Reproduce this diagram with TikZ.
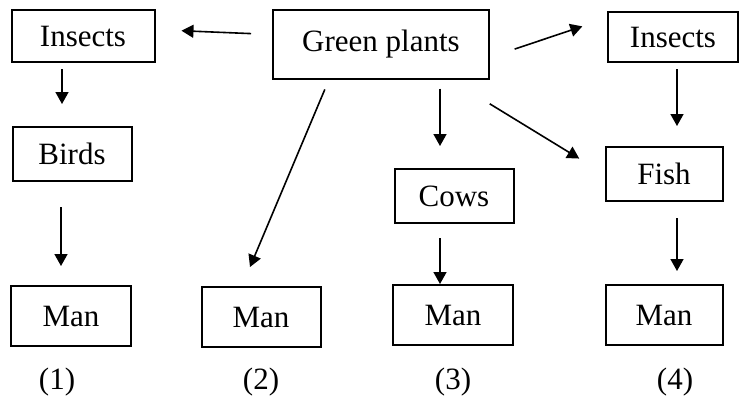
\documentclass[tikz,border=0pt]{standalone}
\usepackage{fontspec}
\setmainfont{Liberation Serif}
\usetikzlibrary{arrows.meta}

\begin{document}
\begin{tikzpicture}[x=0.5pt, y=-0.5pt]
        \tikzstyle{box}=[draw=black, line width=1pt, inner sep=0pt, font=\fontsize{15.5}{18}\selectfont];
        \tikzstyle{flow}=[-{Triangle[length=6pt, width=6.5pt]}, line width=0.8pt, black];
        \tikzstyle{num}=[font=\fontsize{15.5}{18}\selectfont];

        \useasboundingbox (0, 0) rectangle (740, 397);

        \node[box, minimum width=108pt, minimum height=34.5pt] (0) at (381, 44) {Green plants};

        \node[box, minimum width=71.5pt, minimum height=26pt] (1) at (83, 36) {Insects};
        \node[box, minimum width=59.5pt, minimum height=27pt] (2) at (72, 154) {Birds};
        \node[box, minimum width=60pt, minimum height=30pt] (3) at (71, 316) {Man};

        \node[box, minimum width=59.5pt, minimum height=30pt] (4) at (261, 317) {Man};

        \node[box, minimum width=59.5pt, minimum height=27pt] (5) at (454, 196) {Cows};
        \node[box, minimum width=60pt, minimum height=30pt] (6) at (453, 315) {Man};

        \node[box, minimum width=65pt, minimum height=25pt] (7) at (673, 37) {Insects};
        \node[box, minimum width=58.5pt, minimum height=27pt] (8) at (664, 174) {Fish};
        \node[box, minimum width=58.5pt, minimum height=30pt] (9) at (664, 315) {Man};

        \node[num] (10) at (57, 382) {(1)};
        \node[num] (11) at (261, 382) {(2)};
        \node[num] (12) at (453, 382) {(3)};
        \node[num] (13) at (675, 382) {(4)};

        \draw (0.175) edge[flow, shorten <=10.5pt, shorten >=13pt] (1.5);
        \draw (0.-7) edge[flow, shorten <=13pt, shorten >=13pt] (7.164);
        \draw ([xshift=29.5pt]0.south) edge[flow, shorten <=4.5pt, shorten >=11pt] ([xshift=-7pt]5.north);
        \draw ([xshift=34.5pt]0.south) edge[flow, shorten <=23.3pt, shorten >=14.8pt] (8.west);
        \draw ([xshift=-26pt]0.south) edge[flow, shorten <=5.4pt, shorten >=10.3pt] ([xshift=-9.5pt]4.north);

        \draw ([xshift=-10.5pt]1.south) edge[flow, shorten <=3pt, shorten >=11pt] ([xshift=-5pt]2.north);
        \draw ([xshift=-5.5pt]2.south) edge[flow, shorten <=12.5pt, shorten >=9.5pt] ([xshift=-5pt]3.north);
        \draw ([xshift=-7pt]5.south) edge[flow, shorten <=7pt] ([xshift=-6.5pt]6.north);
        \draw ([xshift=2pt]7.south) edge[flow, shorten <=3pt, shorten >=10pt] ([xshift=6.5pt]8.north);
        \draw ([xshift=6.5pt]8.south) edge[flow, shorten <=8pt, shorten >=6.5pt] ([xshift=6.5pt]9.north);

    \end{tikzpicture}
\end{document}
